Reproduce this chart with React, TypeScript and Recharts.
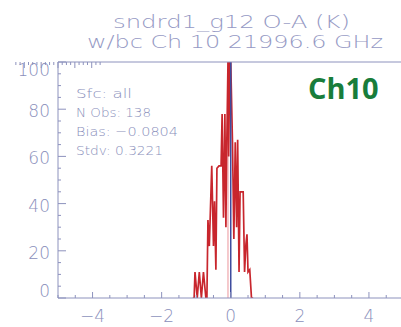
import React from 'react';
import {
  LineChart,
  Line,
  XAxis,
  YAxis,
  ReferenceLine,
} from 'recharts';

// histogram of O-A departures (K) -> counts
const binCenters = [
  -1.1, -1.06, -1.035, -0.97, -0.91, -0.85, -0.79, -0.72, -0.69, -0.66,
  -0.62, -0.55, -0.5, -0.47, -0.43, -0.4, -0.34, -0.28, -0.25, -0.21,
  -0.17, -0.14, -0.12, -0.08, -0.06, -0.03, 0.0, 0.05, 0.09, 0.13,
  0.17, 0.2, 0.24, 0.27, 0.36, 0.4, 0.44, 0.47, 0.5, 0.55, 0.6, 0.65,
];
const counts = [
  0, 0, 11, 0, 11, 0, 11, 0, 0, 33,
  22, 56, 22, 41, 12, 55, 56, 56, 78, 34,
  78, 30, 60, 100, 60, 100, 100, 66, 25, 66,
  30, 67, 11, 45, 45, 11, 23, 27, 11, 12, 0, 0,
];

const xTicks = [-5, -4.5, -4, -3.5, -3, -2.5, -2, -1.5, -1, -0.5, 0, 0.5, 1, 1.5, 2, 2.5, 3, 3.5, 4, 4.5, 5];
const yTicks = [0, 5, 10, 15, 20, 25, 30, 35, 40, 45, 50, 55, 60, 65, 70, 75, 80, 85, 90, 95, 100];
const majorX = [-4, -2, 0, 2, 4];
const majorY = [0, 20, 40, 60, 80, 100];

const titleLines = ['sndrd1_g12 O-A (K)', 'w/bc Ch 10 21996.6 GHz'];
const statLines = ['Sfc: all', 'N Obs: 138', 'Bias: \u22120.0804', 'Stdv: 0.3221'];
const bias = -0.0804;
const channelTag = 'Ch10';

const AXIS = '#8d92bd';
const LABEL = '#8a8fbb';
const FONT = '"DejaVu Sans", sans-serif';

const data = binCenters.map((x, i) => ({ x, y: counts[i] }));

const fmt = (v: number) => (v < 0 ? '\u2212' + Math.abs(v) : String(v));

const XTick = (props: any) => {
  const { x, y, payload, top } = props;
  const v = payload.value;
  const major = majorX.includes(v);
  const len = major ? 6 : 3;
  return (
    <g>
      <line x1={x} x2={x} y1={y} y2={top ? y + len : y - len} stroke={AXIS} />
      {!top && major && (
        <text x={x} y={y + 24} textAnchor="middle" fill={LABEL} fontSize={17} fontFamily={FONT} fontWeight={200}>
          {fmt(v)}
        </text>
      )}
    </g>
  );
};

const YTick = (props: any) => {
  const { x, y, payload } = props;
  const v = payload.value;
  const major = majorY.includes(v);
  const len = major ? 8 : 3;
  const dy = v === 100 ? 14 : v === 0 ? -1 : 8;
  return (
    <g>
      <line x1={x} x2={x + len} y1={y} y2={y} stroke={AXIS} />
      {major && (
        <text x={x - 8} y={y + dy} textAnchor="end" fill={LABEL} fontSize={17} fontFamily={FONT} fontWeight={200}>
          {v}
        </text>
      )}
    </g>
  );
};

export default function App() {
  return (
    <div
      style={{
        position: 'fixed',
        left: 0,
        top: 0,
        width: 401,
        height: 327,
        overflow: 'hidden',
        background: '#fff',
      }}
    >
      <LineChart
        width={430}
        height={327}
        data={data}
        margin={{ top: 61, right: 26.5, bottom: 0, left: 0 }}
      >
        <XAxis
          dataKey="x"
          type="number"
          domain={[-5, 5]}
          ticks={xTicks}
          interval={0}
          height={29}
          tickSize={0}
          tickMargin={0}
          tickLine={false}
          axisLine={{ stroke: AXIS }}
          tick={<XTick />}
          allowDataOverflow
        />
        <XAxis
          xAxisId="top"
          orientation="top"
          type="number"
          domain={[-5, 5]}
          ticks={xTicks}
          interval={0}
          height={1}
          tickSize={0}
          tickMargin={0}
          tickLine={false}
          axisLine={{ stroke: AXIS }}
          tick={<XTick top />}
          allowDataOverflow
        />
        <YAxis
          type="number"
          domain={[0, 100]}
          ticks={yTicks}
          interval={0}
          width={58}
          tickSize={0}
          tickMargin={0}
          tickLine={false}
          axisLine={{ stroke: AXIS }}
          tick={<YTick />}
          allowDataOverflow
        />
        <ReferenceLine x={bias} stroke="#f2b9bd" strokeWidth={1.5} />
        <Line
          dataKey="y"
          type="linear"
          stroke="#c8262d"
          strokeWidth={1.7}
          dot={false}
          isAnimationActive={false}
        />
        <ReferenceLine x={0} stroke="#3f4c9e" strokeWidth={1.5} />
      </LineChart>

      <svg
        width={401}
        height={327}
        style={{ position: 'absolute', left: 0, top: 0, pointerEvents: 'none' }}
      >
        <text x={113} y={28} textLength={237} lengthAdjust="spacingAndGlyphs" fill="#9599c4" fontSize={18} fontFamily={FONT} fontWeight={200}>
          {titleLines[0]}
        </text>
        <text x={87} y={48} textLength={296} lengthAdjust="spacingAndGlyphs" fill="#9599c4" fontSize={18} fontFamily={FONT} fontWeight={200}>
          {titleLines[1]}
        </text>
        {statLines.map((s, i) => (
          <text key={s} x={76} y={98 + i * 19} textLength={[56, 75, 102, 87][i]} lengthAdjust="spacingAndGlyphs" fill={LABEL} fontSize={13} fontFamily={FONT} fontWeight={200}>
            {s}
          </text>
        ))}
        <text x={308} y={99} fill="#187d3b" fontSize={29} fontWeight={700} fontFamily='"Open Sans", sans-serif'>
          {channelTag}
        </text>
      </svg>
    </div>
  );
}
